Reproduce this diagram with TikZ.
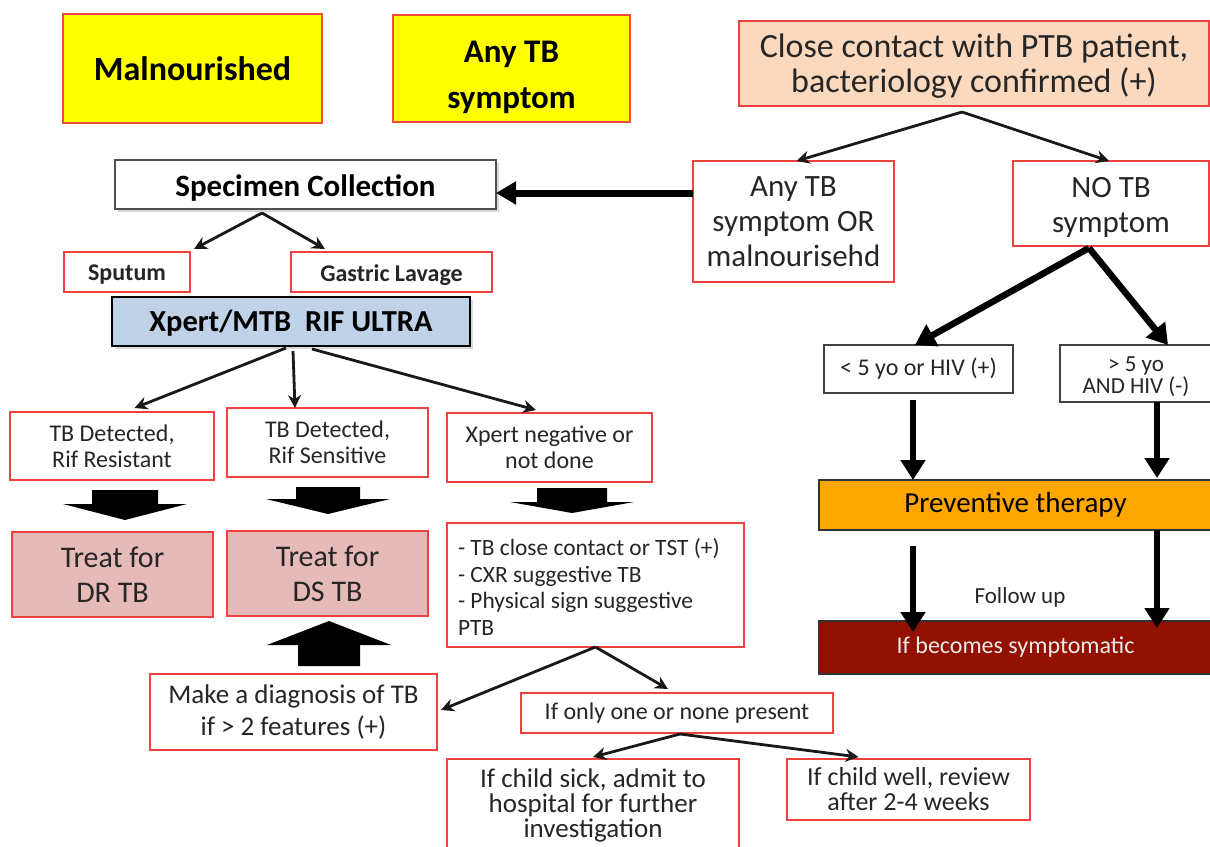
\documentclass[tikz,border=0pt]{standalone}
\usepackage{fontspec}
\setmainfont{Carlito}
\usetikzlibrary{arrows.meta,shadows,calc}

\definecolor{boxred}{RGB}{240,64,64}
\definecolor{yfill}{RGB}{255,255,0}
\definecolor{peach}{RGB}{251,217,190}
\definecolor{treatfill}{RGB}{230,186,185}
\definecolor{xpblue}{RGB}{192,210,232}
\definecolor{prevorange}{RGB}{255,166,0}
\definecolor{symred}{RGB}{146,16,0}
\definecolor{specgray}{RGB}{80,80,80}

\newcommand\fsz[2]{\fontsize{#1}{#2}\selectfont}
% box with text centred
\newcommand\bx[7]{\node[#6,minimum width={(#4-(#2))*1pt},minimum height={(#5-(#3))*1pt}] (#1) at ({(#2+#4)/2},{(#3+#5)/2}) {#7};}
% box with text shifted down by #9
\newcommand\bxs[9]{\node[#6,minimum width={(#4-(#2))*1pt},minimum height={(#5-(#3))*1pt}] (#1) at ({(#2+#4)/2},{(#3+#5)/2}) {};
  \node[base,#7] (#1-t) at ([yshift=-#9pt]#1.center) {#8};}
\newcommand\blk[6]{\fill[black] (#1-#5,#2) -- (#1+#5,#2) -- (#1+#5,#3) -- (#1+#6,#3) -- (#1,#4) -- (#1-#6,#3) -- (#1-#5,#3) -- cycle;}

\tikzset{
  base/.style={inner sep=2pt, outer sep=0pt, align=center, text=black!85},
  rbox/.style={base, draw=boxred, line width=1.4pt, fill=white},
  ybox/.style={base, draw=boxred!80!orange, line width=1.4pt, fill=yfill, text=black},
  pbox/.style={base, draw=boxred, line width=1.4pt, fill=peach},
  tbox/.style={base, draw=boxred, line width=1.4pt, fill=treatfill},
  sbox/.style={base, draw=specgray, line width=1.6pt, fill=white, text=black,
    drop shadow={shadow xshift=3pt, shadow yshift=-3pt, opacity=0.3}},
  xbox/.style={base, draw=black, line width=2.6pt, fill=xpblue, text=black,
    drop shadow={shadow xshift=3pt, shadow yshift=-3pt, opacity=0.3}},
  kbox/.style={base, draw=black!75, line width=1.2pt, fill=white},
  obox/.style={base, draw=black!80, line width=1.2pt, fill=prevorange, text=black},
  dbox/.style={base, draw=black!80, line width=1.2pt, fill=symred, text=white!92!black},
  thinarr/.style={draw=black!90, line width=2.8pt, -{Stealth[length=13pt,width=13pt]}},
  thickarr/.style={draw=black, line width=6.5pt, -{Triangle[length=20pt,width=24pt]}},
}

\begin{document}
\begin{tikzpicture}[x=1pt,y=-1pt]
\useasboundingbox[fill=white] (0,0) rectangle (1210,846);

% top row
\bx{mal}{63}{14}{322}{123}{ybox,font=\fsz{34}{36}\bfseries}{Malnourished}
\bxs{anysym}{393}{15}{630}{122}{ybox}{text=black,font=\fsz{33}{46}\bfseries}{Any TB\\symptom}{9}
\bxs{cc}{739}{21}{1209}{106}{pbox}{font=\fsz{34}{35}}{Close contact with PTB patient,\\bacteriology confirmed (+)}{3}

% second row
\bxs{spec}{115}{160}{496}{209}{sbox}{text=black,font=\fsz{31}{32}\bfseries}{Specimen Collection}{4}
\bx{anytb}{693}{161}{894}{282}{rbox,font=\fsz{31}{35}}{Any TB\\symptom OR\\malnourisehd}
\bxs{notb}{1013}{161}{1209}{246}{rbox}{font=\fsz{31}{35}}{NO TB\\symptom}{4}

\bxs{sputum}{64}{252}{190}{292}{rbox}{font=\fsz{24}{26}\bfseries}{Sputum}{3}
\bxs{gastric}{291}{252}{492}{292}{rbox}{font=\fsz{24}{26}\bfseries}{Gastric Lavage}{3}

\bxs{xp}{112}{297}{470}{346}{xbox}{text=black,font=\fsz{30.5}{30}\bfseries}{Xpert/MTB\ \ RIF ULTRA}{2}

\bx{lt5}{824}{345}{1013}{393}{kbox,font=\fsz{24}{26}}{< 5 yo or HIV (+)}
\bxs{gt5}{1060}{345}{1212}{402}{kbox}{font=\fsz{23}{20}}{> 5 yo\\AND HIV (-)}{3}

% Xpert results
\bx{res}{10}{412}{214}{480}{rbox,font=\fsz{24}{26}}{TB Detected,\\Rif Resistant}
\bx{sen}{227}{408}{428}{477}{rbox,font=\fsz{24}{26}}{TB Detected,\\Rif Sensitive}
\bx{neg}{447}{413}{652}{482}{rbox,font=\fsz{24}{26}}{Xpert negative or\\not done}

\bx{pv}{819}{480}{1212}{530}{obox,font=\fsz{29}{32}}{Preventive therapy}

% block arrows
\blk{125}{490}{504}{520}{33}{62}
\blk{328}{487}{499}{514}{32}{62}
\blk{572}{488}{502}{513}{35}{62}
\blk{329}{666}{645}{621}{31}{62}

\bx{dr}{12}{532}{213}{617}{tbox,font=\fsz{30}{35}}{Treat for\\DR TB}
\bx{ds}{227}{531}{428}{616}{tbox,font=\fsz{30}{35}}{Treat for\\DS TB}
\bx{lst}{447}{523}{744}{647}{rbox}{}
\node[base,font=\fsz{23.4}{26.5},align=left,anchor=west,inner sep=0pt] (lst-t) at ([xshift=11pt,yshift=-2pt]lst.west)
  {- TB close contact or TST (+)\\- CXR suggestive TB\\- Physical sign suggestive\\PTB};

\node[font=\fsz{23}{26},text=black!85] (fu) at (1020,597) {Follow up};
\bx{bec}{819}{621}{1212}{674}{dbox,font=\fsz{24}{26}}{If becomes symptomatic}

\bx{diag}{150}{674}{437}{750}{rbox,font=\fsz{27}{32}}{Make a diagnosis of TB\\if > 2 features (+)}
\bx{only}{521}{693}{833}{733}{rbox,font=\fsz{24}{26}}{If only one or none present}
\bx{sick}{447}{759}{739}{852}{rbox,font=\fsz{27}{25}}{If child sick, admit to\\hospital for further\\investigation}
\bx{well}{787}{759}{1030}{820}{rbox,font=\fsz{26}{25}}{If child well, review\\after 2-4 weeks}

% connectors
\draw[thinarr] ([xshift=-12pt,yshift=-6pt]cc.south) -- ([xshift=3pt]anytb.north);
\draw[thinarr] ([xshift=-12pt,yshift=-6pt]cc.south) -- ([xshift=-2pt]notb.north);
\draw[draw=black, line width=7pt, -{Triangle[length=20pt,width=22pt]}] ([yshift=28.5pt]anytb.west) -- ([yshift=-8.5pt]spec.east);

\draw[thinarr] ([xshift=-43.5pt,yshift=-4pt]spec.south) -- ([xshift=4pt,yshift=3pt]sputum.north east);
\draw[thinarr] ([xshift=-43.5pt,yshift=-4pt]spec.south) -- ([xshift=34pt,yshift=3pt]gastric.north west);

\draw[thinarr] ([xshift=-5pt,yshift=-2pt]xp.south) -- ([xshift=22.5pt,yshift=4pt]res.north);
\draw[thinarr] ([xshift=2pt,yshift=-5pt]xp.south) -- ([xshift=-32.5pt]sen.north);
\draw[thinarr] ([xshift=21pt,yshift=-3pt]xp.south) -- ([xshift=-13.5pt,yshift=3pt]neg.north);

\draw[thinarr] (lst.south) -- ([xshift=4pt,yshift=2pt]diag.east);
\draw[thinarr] (lst.south) -- ([xshift=-9pt,yshift=4pt]only.north);
\draw[thinarr] ([xshift=3pt,yshift=-1pt]only.south) -- ([yshift=2pt]sick.north);
\draw[thinarr] ([xshift=3pt,yshift=-1pt]only.south) -- ([xshift=-50pt,yshift=2pt]well.north);

\draw[thickarr] ([xshift=-22pt,yshift=-2pt]notb.south) -- ([xshift=-3.5pt]lt5.north);
\draw[thickarr] ([xshift=-22pt,yshift=-2pt]notb.south) -- ([xshift=32pt]gt5.north);
\draw[thickarr] ([xshift=-5.5pt,yshift=-7pt]lt5.south) -- ([xshift=-102.5pt]pv.north);
\draw[thickarr] ([xshift=21pt]gt5.south) -- ([xshift=141.5pt,yshift=2pt]pv.north);
\draw[thickarr] ([xshift=-102.5pt,yshift=-16pt]pv.south) -- ([xshift=-102.5pt,yshift=-11pt]bec.north);
\draw[thickarr] ([xshift=141.5pt]pv.south) -- ([xshift=141.5pt,yshift=-7pt]bec.north);
\end{tikzpicture}
\end{document}
